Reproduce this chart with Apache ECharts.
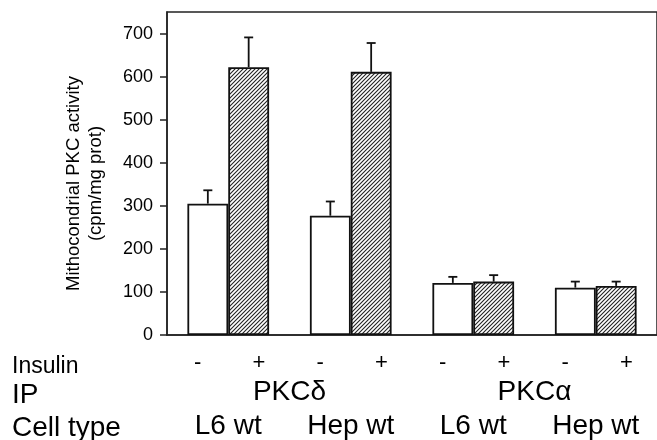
<!DOCTYPE html>
<html>
<head>
<meta charset="utf-8">
<script src="https://cdn.jsdelivr.net/npm/echarts@6/dist/echarts.min.js"></script>
<style>html,body{margin:0;padding:0;background:#fff;}#c{width:657px;height:440px;}</style>
</head>
<body>
<div id="c"></div>
<script>
const cellTypes = ['L6 wt', 'Hep wt', 'L6 wt', 'Hep wt'];
const ipLabels = ['PKC\u03b4', 'PKC\u03b1'];
const insulinLabels = ['-', '+', '-', '+', '-', '+', '-', '+'];
const yTicks = [0, 100, 200, 300, 400, 500, 600, 700];
const noInsulin = [305, 277, 121, 110];
const noInsulinErr = [31, 33, 14, 14];
const withInsulin = [622, 611, 124, 114];
const withInsulinErr = [69, 67, 15, 10];

const FONT = "'Liberation Sans', Arial, Helvetica, sans-serif";

// hatch pattern
const pc = document.createElement('canvas');
pc.width = 4; pc.height = 4;
const g = pc.getContext('2d');
g.fillStyle = '#fff'; g.fillRect(0, 0, 4, 4);
g.strokeStyle = '#222'; g.lineWidth = 1.1;
g.beginPath();
g.moveTo(-1, 5); g.lineTo(5, -1);
g.moveTo(-1, 1); g.lineTo(1, -1);
g.moveTo(3, 5); g.lineTo(5, 3);
g.stroke();

const errData = [];
for (let i = 0; i < 4; i++) {
  errData.push([i, noInsulin[i], noInsulinErr[i], -1]);
  errData.push([i, withInsulin[i], withInsulinErr[i], 1]);
}

const chart = echarts.init(document.getElementById('c'), null, {renderer: 'canvas'});
chart.setOption({
  animation: false,
  backgroundColor: '#fff',
  grid: {left: 167, top: 12, right: -2, bottom: 102, show: true, borderColor: '#222', borderWidth: 1.5, backgroundColor: 'transparent'},
  xAxis: [
    {
      type: 'category', data: cellTypes,
      axisLine: {show: true, lineStyle: {color: '#222', width: 1.5}},
      axisTick: {show: false},
      axisLabel: {show: true, color: '#000', fontSize: 28, fontFamily: FONT, margin: 77, interval: 0}
    },
    {
      type: 'category', data: insulinLabels.map((s, i) => String(i)),
      position: 'bottom',
      axisLine: {show: false}, axisTick: {show: false},
      axisLabel: {show: true, color: '#000', fontSize: 22, fontFamily: FONT, margin: 17, interval: 0,
        formatter: (v, i) => insulinLabels[i]}
    },
    {
      type: 'category', data: ipLabels,
      position: 'bottom',
      axisLine: {show: false}, axisTick: {show: false},
      axisLabel: {show: true, color: '#000', fontSize: 28, fontFamily: FONT, margin: 43, interval: 0}
    }
  ],
  yAxis: {
    type: 'value', min: 0, max: 750, interval: 100,
    name: 'Mithocondrial PKC activity\n(cpm/mg prot)',
    nameLocation: 'middle', nameGap: 60, nameRotate: 90,
    nameTextStyle: {color: '#000', fontSize: 18.5, fontFamily: FONT, lineHeight: 22, padding: [0, 20, 0, 0]},
    axisLine: {show: true, lineStyle: {color: '#222', width: 1.5}},
    axisTick: {show: true, length: 7, lineStyle: {color: '#222', width: 1.5}, customValues: yTicks},
    axisLabel: {color: '#000', fontSize: 18, fontFamily: FONT, margin: 14, customValues: yTicks},
    splitLine: {show: false}
  },
  series: [
    {
      type: 'bar', data: noInsulin, xAxisIndex: 0,
      barGap: '0%', barCategoryGap: '33.3%',
      itemStyle: {color: '#fff', borderColor: '#111', borderWidth: 1.8}
    },
    {
      type: 'bar', data: withInsulin, xAxisIndex: 0,
      barGap: '0%', barCategoryGap: '33.3%',
      itemStyle: {color: {image: pc, repeat: 'repeat'}, borderColor: '#111', borderWidth: 1.8}
    },
    {
      type: 'custom', xAxisIndex: 0, z: 5,
      data: errData,
      renderItem: function (params, api) {
        const idx = api.value(0), val = api.value(1), err = api.value(2), side = api.value(3);
        const band = api.size([1, 0])[0];
        const base = api.coord([idx, val]);
        const top = api.coord([idx, val + err]);
        const x = base[0] + side * band / 6;
        const st = {stroke: '#111', lineWidth: 1.8};
        return {type: 'group', children: [
          {type: 'line', shape: {x1: x, y1: base[1], x2: x, y2: top[1]}, style: st},
          {type: 'line', shape: {x1: x - 4.5, y1: top[1], x2: x + 4.5, y2: top[1]}, style: st}
        ]};
      }
    }
  ],
  graphic: [
    {type: 'text', left: 12, top: 355, style: {text: 'Insulin', fontSize: 23, fontFamily: FONT, fill: '#000'}},
    {type: 'text', left: 12, top: 381, style: {text: 'IP', fontSize: 28, fontFamily: FONT, fill: '#000'}},
    {type: 'text', left: 12, top: 414, style: {text: 'Cell type', fontSize: 28, fontFamily: FONT, fill: '#000'}}
  ]
});
</script>
</body>
</html>
